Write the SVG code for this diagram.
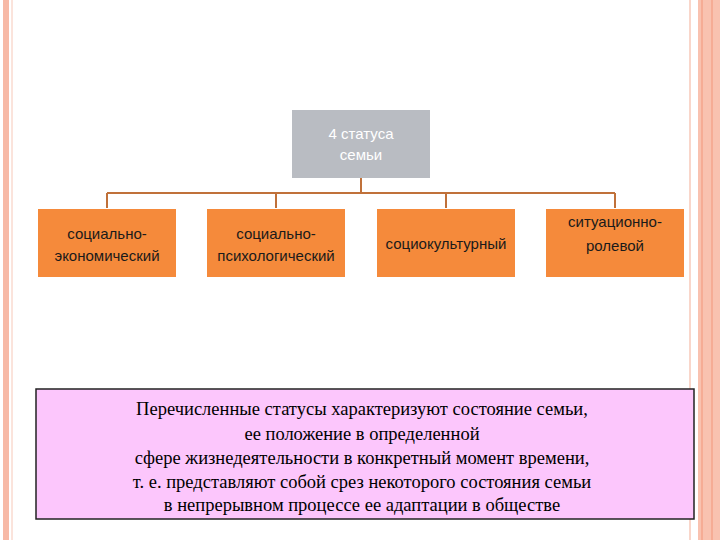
<svg xmlns="http://www.w3.org/2000/svg" width="720" height="540" viewBox="0 0 720 540">
<style>
.o{fill:#f58a3b}
.t{font-family:"Liberation Sans",Arial,sans-serif;font-size:15px;fill:#1a1a1a;text-anchor:middle}
.w{font-family:"Liberation Sans",Arial,sans-serif;font-size:15px;fill:#ffffff;text-anchor:middle}
.s{font-family:"Liberation Serif","Times New Roman",serif;font-size:18.5px;fill:#000;text-anchor:middle}
.c{stroke:#c0713a;stroke-width:2;fill:none}
</style>
<rect width="720" height="540" fill="#fff"/>
<rect x="3" y="0" width="6" height="540" fill="#f7b9a6"/>
<line x1="12" y1="0" x2="12" y2="540" stroke="#f7c8b8" stroke-width="1"/>
<line x1="690" y1="0" x2="690" y2="540" stroke="#f7c8b8" stroke-width="1.5"/>
<rect x="698" y="0" width="22" height="540" fill="#f9c2b0"/>
<line x1="702" y1="0" x2="702" y2="540" stroke="#f4a58c" stroke-width="1.5"/>
<line x1="712" y1="0" x2="712" y2="540" stroke="#f4a58c" stroke-width="1.5"/>
<g id="connectors">
<path class="c" d="M361 178V193M107 193H615M107 193V208M276 193V208M446 193V208M615 193V208"/>
</g>
<g id="root"><rect x="292" y="110" width="138" height="68" fill="#b9bcc2"/>
<text class="w" x="361" y="139">4 статуса</text><text class="w" x="361" y="160">семьи</text></g>
<g id="n1"><rect class="o" x="38" y="209" width="138" height="68"/>
<text class="t" x="107" y="239">социально-</text><text class="t" x="107" y="261">экономический</text></g>
<g id="n2"><rect class="o" x="207" y="209" width="138" height="68"/>
<text class="t" x="276" y="239">социально-</text><text class="t" x="276" y="261">психологический</text></g>
<g id="n3"><rect class="o" x="377" y="209" width="138" height="68"/>
<text class="t" x="446" y="249">социокультурный</text></g>
<g id="n4"><rect class="o" x="546" y="209" width="138" height="68"/>
<text class="t" x="615" y="227">ситуационно-</text><text class="t" x="615" y="251">ролевой</text></g>
<g id="note"><rect x="36" y="389" width="658" height="130" fill="#fcc6fc" stroke="#222" stroke-width="1.5"/>
<text class="s" x="362" y="415">Перечисленные статусы характеризуют состояние семьи,</text>
<text class="s" x="362" y="440">ее положение в определенной</text>
<text class="s" x="362" y="464">сфере жизнедеятельности в конкретный момент времени,</text>
<text class="s" x="362" y="488">т. е. представляют собой срез некоторого состояния семьи</text>
<text class="s" x="362" y="511">в непрерывном процессе ее адаптации в обществе</text></g>
</svg>
